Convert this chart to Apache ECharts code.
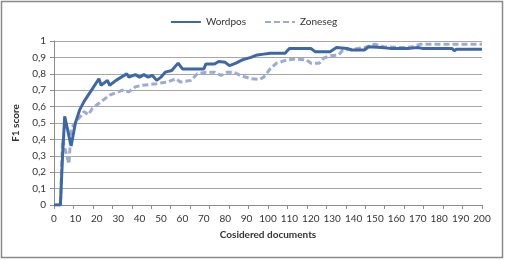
<!DOCTYPE html>
<html><head><meta charset="utf-8">
<script src="https://cdn.jsdelivr.net/npm/echarts@6/dist/echarts.min.js"></script>
<style>html,body{margin:0;padding:0;background:#fff}#c{width:507px;height:260px}</style>
</head><body><div id="c"></div>
<script>
const seriesNames = ['Wordpos', 'Zoneseg'];
const wordposX = [0,3,4,5,8,10,12,14,16,18,20,21,22,25,26,29,34,35,38,40,42,44,46,48,50,52,55,58,60,70,71,75,77,80,82,85,88,92,95,98,101,108,110,120,122,129,132,137,139,145,147,153,157,166,170,172,186,187,188,200];
const wordposY = [0,0,0.3,0.54,0.36,0.5,0.58,0.63,0.67,0.71,0.75,0.77,0.73,0.76,0.73,0.76,0.8,0.78,0.795,0.78,0.795,0.78,0.79,0.76,0.78,0.81,0.82,0.865,0.83,0.83,0.86,0.86,0.875,0.87,0.85,0.865,0.885,0.9,0.915,0.92,0.925,0.925,0.955,0.955,0.935,0.935,0.96,0.955,0.945,0.945,0.965,0.96,0.955,0.955,0.96,0.955,0.955,0.94,0.95,0.95];
const zonesegX = [0,3,4,7,8,10,11,13,14,16,18,20,22,24,26,30,32,35,38,41,45,48,53,55,57,59,64,67,71,75,78,81,84,87,92,96,98,101,104,109,113,118,120,124,126,129,133,135,140,145,150,154,163,168,171,200];
const zonesegY = [0,0,0.4,0.25,0.47,0.5,0.52,0.55,0.57,0.55,0.59,0.61,0.63,0.65,0.67,0.69,0.7,0.69,0.72,0.73,0.735,0.74,0.75,0.76,0.77,0.75,0.76,0.8,0.81,0.81,0.79,0.81,0.81,0.79,0.77,0.765,0.78,0.83,0.865,0.885,0.89,0.885,0.865,0.865,0.895,0.91,0.915,0.945,0.95,0.96,0.98,0.965,0.96,0.965,0.98,0.98];
const xTickLabels = [0,10,20,30,40,50,60,70,80,90,100,110,120,130,140,150,160,170,180,190,200];
const yTickLabels = ['0','0,1','0,2','0,3','0,4','0,5','0,6','0,7','0,8','0,9','1'];

const font = 'Lato, "Open Sans", sans-serif';
const chart = echarts.init(document.getElementById('c'), null, {renderer: 'canvas'});
chart.setOption({
  animation: false,
  graphic: [{type: 'rect', shape: {x: 1.5, y: 1.5, width: 501, height: 256}, style: {fill: 'none', stroke: '#8a8a8a', lineWidth: 1.5}, z: 0}],
  legend: {
    top: 12, left: 'center', itemWidth: 30, itemHeight: 10, itemGap: 18,
    itemStyle: {opacity: 0},
    textStyle: {fontFamily: font, fontSize: 10, color: '#333'},
    data: seriesNames
  },
  grid: {left: 54, right: 25, top: 41, bottom: 55},
  xAxis: [{
    type: 'value', min: 0, max: 200, interval: 10,
    name: 'Cosidered documents', nameLocation: 'middle', nameGap: 25,
    nameTextStyle: {fontFamily: font, fontSize: 10, fontWeight: 'bold', color: '#333'},
    axisLine: {lineStyle: {color: '#8c8c8c'}},
    axisTick: {show: false},
    axisLabel: {fontFamily: font, fontSize: 10, color: '#333', margin: 9,
      formatter: v => xTickLabels.includes(v) ? String(v) : ''},
    splitLine: {show: false}
  }, {
    type: 'value', min: 0, max: 200, interval: 200 / 22, position: 'bottom',
    axisLine: {show: false},
    axisTick: {show: true, inside: false, length: 4, lineStyle: {color: '#8c8c8c'}},
    axisLabel: {show: false}, splitLine: {show: false}
  }],
  yAxis: {
    type: 'value', min: 0, max: 1, interval: 0.1,
    name: 'F1 score', nameLocation: 'middle', nameGap: 31,
    nameTextStyle: {fontFamily: font, fontSize: 10, fontWeight: 'bold', color: '#333'},
    axisLine: {show: true, lineStyle: {color: '#8c8c8c'}},
    axisTick: {show: true, length: 4, lineStyle: {color: '#8c8c8c'}},
    axisLabel: {fontFamily: font, fontSize: 10, color: '#333', margin: 8,
      formatter: v => yTickLabels[Math.round(v * 10)]},
    splitLine: {lineStyle: {color: '#a6a6a6', width: 1}}
  },
  series: [{
    name: seriesNames[0], type: 'line', showSymbol: false, symbol: 'none',
    data: wordposX.map((x, i) => [x, wordposY[i]]),
    lineStyle: {color: '#3d67a5', width: 3}, itemStyle: {color: '#3d67a5'}, z: 3
  }, {
    name: seriesNames[1], type: 'line', showSymbol: false, symbol: 'none',
    data: zonesegX.map((x, i) => [x, zonesegY[i]]),
    lineStyle: {color: '#9eaad6', width: 3, type: [6, 3]}, itemStyle: {color: '#9eaad6'}, z: 2
  }]
});
</script></body></html>
